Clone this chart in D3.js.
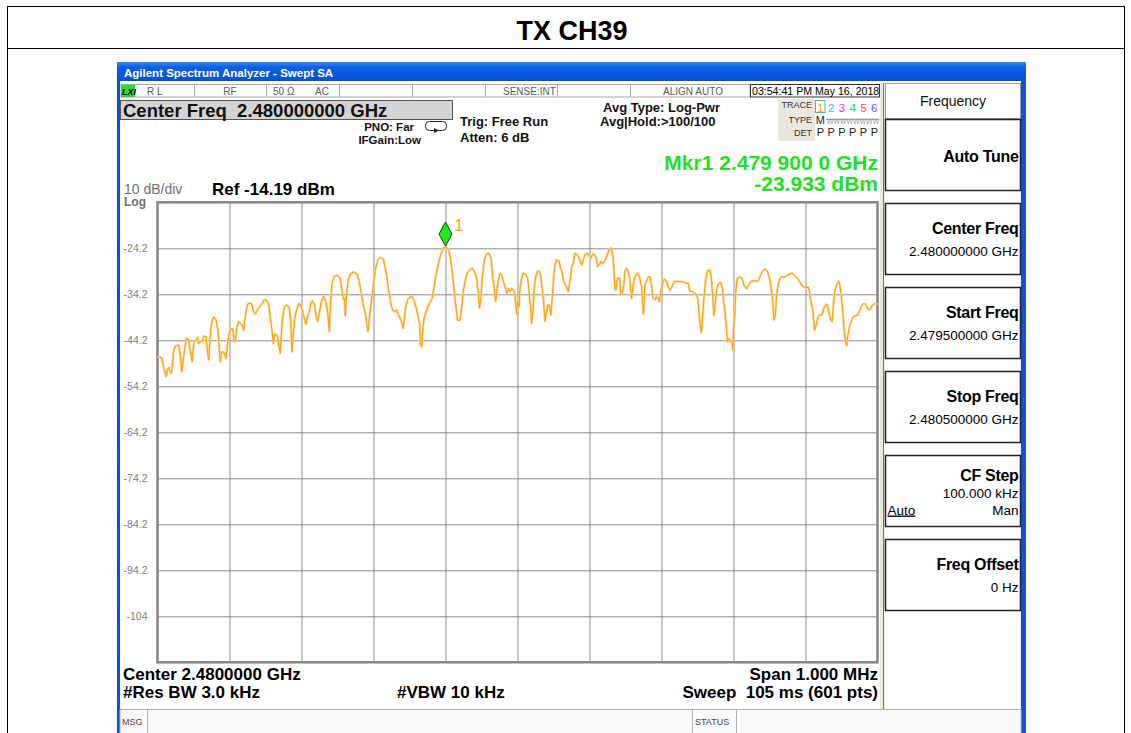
<!DOCTYPE html>
<html>
<head>
<meta charset="utf-8">
<script src="https://cdn.jsdelivr.net/npm/d3@7"></script>
<style>
body { margin: 0; background: #fff; }
svg { display: block; font-family: 'Liberation Sans', Arial, sans-serif; }
text { white-space: pre; }
</style>
</head>
<body>
<svg width="1131" height="733"></svg>
<script>
// trace: kHz above start freq (2.4795 GHz), level in dBm
var traceKHz = [
  0, 5.5, 8.8, 12.0, 13.9, 15.7, 17.6, 19.4, 22.7, 25.0, 28.7, 30.5, 32.4, 33.7, 36.1, 37.9,
  40.2, 43.5, 45.3, 48.1, 50.4, 52.7, 55.5, 57.3, 59.6, 61.9, 64.3, 67.5, 69.4, 71.2, 72.6, 74.9,
  78.1, 81.4, 84.1, 86.0, 87.4, 88.8, 92.0, 95.2, 96.6, 98.9, 101.7, 104.5, 106.3, 108.2, 110.0, 112.8,
  115.1, 117.4, 119.7, 121.1, 123.0, 125.7, 130.4, 133.6, 135.9, 138.7, 141.5, 145.2, 148.9, 152.1,
  154.4, 156.7, 159.0, 160.9, 162.7, 166.0, 168.3, 170.6, 172.0, 173.8, 176.6, 179.8, 183.1, 184.9,
  186.8, 188.6, 190.5, 193.2, 196.0, 199.3, 201.6, 203.9, 206.2, 209.0, 210.8, 213.1, 215.4, 218.2,
  220.1, 222.4, 224.7, 227.5, 230.7, 234.0, 236.7, 238.6, 240.4, 242.3, 246.0, 250.6,
  253.8, 256.1, 258.0, 259.8, 260.8, 262.2, 264.5, 267.7, 272.3, 277.0, 280.2, 283.0, 286.2, 288.5,
  290.8, 292.2, 294.1, 296.8, 300.1, 302.4, 306.1, 309.3, 313.9, 316.2, 318.6, 320.9, 323.2, 326.4,
  329.2, 332.4, 334.7, 337.0, 339.4, 341.2, 343.1, 344.9, 347.7, 350.9, 354.2, 356.9, 358.8, 361.5,
  363.9, 365.2, 367.1, 368.5, 370.8, 374.0, 377.3, 381.0, 383.3, 386.5, 390.2, 393.9, 397.1, 400.0,
  404.1, 406.4, 408.7, 411.0, 413.3, 415.6, 417.0, 420.3, 422.6, 424.9, 428.1, 430.9, 434.1, 437.4,
  440.1, 443.4, 445.7, 447.1, 449.4, 451.2, 454.0, 457.3, 460.5, 463.3, 465.1, 467.4, 469.7, 471.6,
  473.4, 475.7, 478.1, 480.4, 482.7, 485.0, 487.3, 489.6, 491.9, 494.2, 496.5,
  497.9, 498.8, 500.3, 502.0, 503.4, 505.7, 508.1, 511.3, 514.1, 515.9, 517.8, 519.6, 521.5, 523.3,
  525.2, 527.9, 530.7, 532.6, 534.4, 536.3, 538.1, 540.4, 541.8, 544.1, 546.4, 548.3, 550.1, 552.0,
  554.3, 557.5, 559.4, 562.1, 564.0, 566.8, 568.6, 570.5, 572.8, 575.1, 577.9, 579.7, 583.4, 586.6,
  589.0, 591.3, 593.6, 597.3, 599.6, 601.9, 604.2, 607.5, 609.8, 611.2, 613.5, 615.8, 618.5, 620.4,
  622.7, 624.6, 626.9, 629.6, 631.5, 633.3, 635.2, 636.6, 638.9, 642.1, 643.5, 645.4, 647.7, 649.1,
  651.4, 653.7, 656.0, 658.3, 660.6, 662.9, 666.6, 669.4, 672.2, 674.9, 676.8, 679.1, 681.4, 684.2,
  686.0, 688.4, 690.7, 693.0, 695.3, 697.1, 699.0, 700.8, 703.6, 706.9, 709.2, 711.9, 714.7, 717.5,
  723.0, 727.7, 733.2, 736.9, 739.2, 742.9, 746.1, 748.5, 750.8,
  752.1, 753.6, 755.4, 757.3, 759.1, 761.5, 763.8, 767.0, 769.3, 771.6, 773.0, 774.9, 776.7, 779.5,
  782.3, 784.6, 786.4, 788.7, 790.6, 791.5, 793.8, 795.7, 798.0, 798.9, 800.3, 801.7, 803.5, 805.4,
  808.6, 811.8, 814.6, 818.3, 821.1, 823.9, 827.1, 834.0, 836.8, 839.6, 843.3, 847.0, 849.8, 852.5,
  854.4, 856.2, 858.1, 859.5, 861.8, 864.6, 867.3, 872.0, 875.6, 881.2, 884.9, 888.6, 891.8, 895.1,
  898.8, 904.3, 907.1, 910.3, 912.6, 914.9, 917.3, 920.0, 922.8, 925.6, 928.4, 930.2, 933.0, 934.8,
  937.1, 938.5, 940.4, 943.1, 945.9, 947.8, 949.6, 951.9, 954.2, 957.0, 958.9, 961.2, 963.5, 966.3,
  970.0, 972.7, 975.5, 978.3, 981.0, 983.8, 986.6, 989.4, 993.1, 995.8, 1000
]
var traceDbm = [
  -47.8, -47.9, -50.3, -52.1, -50.6, -50.1, -51.0, -51.4, -46.3, -45.4, -45.2, -46.3, -48.5, -51.0, -48.1, -45.9,
  -43.8, -44.1, -46.3, -48.8, -44.9, -44.3, -43.6, -44.9, -44.5, -44.5, -43.3, -43.4, -46.7, -48.5, -44.5, -40.5,
  -39.1, -39.8, -42.3, -46.7, -48.8, -46.7, -46.8, -48.1, -45.9, -43.0, -41.6, -41.8, -44.5, -44.1, -41.6, -40.1,
  -40.5, -40.9, -42.0, -40.1, -38.0, -36.2, -36.2, -38.0, -38.5, -37.6, -36.9, -36.2, -35.3, -35.6,
  -36.5, -39.4, -42.0, -44.9, -42.9, -43.0, -45.2, -47.0, -43.0, -39.4, -36.9, -36.5, -37.2, -40.1,
  -46.7, -43.0, -39.4, -37.6, -36.2, -36.5, -38.0, -39.4, -40.7, -38.7, -38.0, -36.2, -35.6, -36.5,
  -38.7, -40.1, -38.3, -35.8, -34.7, -35.8, -38.7, -42.3, -35.8, -31.8, -30.2, -30.1,
  -30.7, -33.3, -35.3, -35.1, -38.9, -35.1, -31.4, -29.8, -29.3, -29.8, -31.4, -34.0, -36.9, -38.3,
  -40.5, -42.3, -39.8, -36.1, -31.8, -28.9, -26.7, -26.2, -26.6, -28.5, -30.3, -33.3, -35.4, -37.6,
  -38.0, -37.6, -38.7, -39.4, -40.5, -41.6, -39.0, -36.9, -35.3, -34.7, -34.8, -35.8, -36.9, -38.7,
  -40.5, -45.2, -45.6, -41.6, -39.0, -37.6, -36.1, -35.3, -33.3, -30.3, -27.5, -25.3, -24.2, -23.93,
  -24.4, -26.0, -28.5, -31.8, -35.4, -38.3, -39.9, -39.8, -36.9, -33.3, -30.7, -29.3, -28.8, -28.5,
  -29.3, -30.7, -34.0, -37.2, -34.7, -30.3, -26.7, -25.4, -25.3, -26.4, -29.6, -32.5, -35.8, -32.9,
  -31.1, -29.6, -30.0, -31.4, -32.5, -34.0, -32.9, -33.6, -32.9, -33.3, -34.3,
  -36.5, -38.5, -35.8, -36.9, -32.9, -30.7, -29.6, -29.9, -30.7, -33.6, -36.5, -40.5, -37.6, -32.9,
  -30.4, -29.1, -29.3, -30.7, -32.9, -35.8, -40.0, -38.0, -36.5, -36.5, -38.7, -34.7, -30.7, -27.8,
  -26.7, -26.9, -28.2, -29.6, -31.4, -32.2, -32.9, -33.6, -31.4, -28.5, -27.1, -25.3, -25.6, -26.7,
  -27.8, -26.7, -25.6, -25.3, -26.0, -26.4, -25.5, -25.6, -26.7, -28.2, -27.8, -27.1, -27.5, -27.1,
  -26.4, -25.6, -24.6, -24.1, -24.9, -27.1, -32.9, -33.3, -30.7, -30.7, -34.3, -34.0, -32.2, -29.3,
  -28.5, -29.3, -30.7, -35.1, -32.2, -30.4, -29.6, -30.4, -32.5, -38.5, -32.2, -31.4, -30.4, -30.4,
  -32.2, -35.1, -35.4, -34.7, -35.1, -35.8, -33.6, -32.2, -30.9, -31.3, -32.5, -33.3, -32.5, -31.4,
  -31.4, -31.4, -31.7, -31.8, -33.5, -33.6, -34.0, -34.3, -35.4,
  -38.5, -40.5, -42.5, -38.7, -34.7, -30.7, -29.1, -28.9, -30.7, -35.8, -38.8, -35.8, -32.9, -31.8,
  -31.6, -32.9, -35.8, -38.7, -42.0, -44.5, -43.8, -44.5, -44.6, -46.3, -41.2, -38.7, -32.9, -30.7,
  -30.4, -30.7, -32.2, -33.0, -32.2, -31.4, -31.3, -31.3, -30.4, -29.3, -28.7, -29.1, -30.7, -32.9,
  -35.8, -39.8, -38.7, -35.1, -32.2, -30.7, -30.4, -30.4, -30.0, -29.6, -30.1, -30.7, -31.4, -32.3,
  -32.7, -32.7, -35.1, -38.0, -42.0, -40.9, -39.1, -38.7, -38.7, -37.2, -36.4, -36.4, -38.3, -39.8,
  -40.1, -37.2, -33.6, -32.2, -31.3, -32.2, -34.2, -38.3, -43.0, -45.4, -43.0, -41.2, -40.1, -39.1,
  -38.8, -38.7, -37.6, -36.5, -36.2, -36.4, -37.4, -37.6, -36.5, -36.2, -36.4
]

var refLevel = -14.19
var gridKHz = [100, 200, 300, 400, 500, 600, 700, 800, 900]
var gridDbm = [-24.19, -34.19, -44.19, -54.19, -64.19, -74.19, -84.19, -94.19, -104.19]
var gridLabels = ['-24.2', '-34.2', '-44.2', '-54.2', '-64.2', '-74.2', '-84.2', '-94.2', '-104']

var markerKHz = 400
var markerDbm = -23.93

var statusCells = [
  {x0: 121, x1: 194, text: 'R L', tx: 147, anchor: 'start'},
  {x0: 194, x1: 266, text: 'RF', tx: 230, anchor: 'middle'},
  {x0: 266, x1: 339, text: '50 \u03a9', tx: 273, anchor: 'start'},
  {x0: 266, x1: 339, text: 'AC', tx: 315, anchor: 'start'},
  {x0: 339, x1: 412, text: '', tx: 0, anchor: 'start'},
  {x0: 412, x1: 485, text: '', tx: 0, anchor: 'start'},
  {x0: 485, x1: 557, text: 'SENSE:INT', tx: 503, anchor: 'start'},
  {x0: 557, x1: 630, text: '', tx: 0, anchor: 'start'},
  {x0: 630, x1: 750, text: 'ALIGN AUTO', tx: 693, anchor: 'middle'}
]
var softkeyTitles = ['Auto Tune', 'Center Freq', 'Start Freq', 'Stop Freq', 'CF Step', 'Freq Offset']
var softkeyValues = ['', '2.480000000 GHz', '2.479500000 GHz', '2.480500000 GHz', '100.000 kHz', '0 Hz']
var traceNums = ['1', '2', '3', '4', '5', '6']
var traceColors = ['#ff9f00', '#22c8f0', '#f02cf0', '#30d060', '#ff3a78', '#6a50ff']

var svg = d3.select('svg')

function label(x, y, str, size, weight, fill, anchor) {
  return svg.append('text')
    .attr('x', x).attr('y', y)
    .attr('font-size', size)
    .attr('font-weight', weight || 'normal')
    .attr('fill', fill || '#000')
    .attr('text-anchor', anchor || 'start')
    .text(str)
}

// page frame + title
svg.append('rect').attr('x', 7.5).attr('y', 6.5).attr('width', 1117).attr('height', 740)
  .attr('fill', 'none').attr('stroke', '#000')
svg.append('line').attr('x1', 7).attr('x2', 1125).attr('y1', 48.5).attr('y2', 48.5).attr('stroke', '#000')
label(572, 40, 'TX CH39', 27, 'bold', '#000', 'middle')

// XP window chrome
var defs = svg.append('defs')
var grad = defs.append('linearGradient').attr('id', 'xp').attr('x1', 0).attr('x2', 0).attr('y1', 0).attr('y2', 1)
grad.append('stop').attr('offset', '0%').attr('stop-color', '#3d8ff5')
grad.append('stop').attr('offset', '25%').attr('stop-color', '#0a62e4')
grad.append('stop').attr('offset', '100%').attr('stop-color', '#0650d0')
svg.append('rect').attr('x', 117).attr('y', 62).attr('width', 909).attr('height', 680).attr('fill', '#0a55d6')
svg.append('rect').attr('x', 117).attr('y', 62).attr('width', 909).attr('height', 19).attr('fill', 'url(#xp)')
svg.append('rect').attr('x', 120).attr('y', 81).attr('width', 901).attr('height', 660).attr('fill', '#fff')
label(124, 77, 'Agilent Spectrum Analyzer - Swept SA', 11.5, 'bold', '#fff')

// status row
svg.append('rect').attr('x', 121).attr('y', 84.5).attr('width', 629).attr('height', 12.5)
  .attr('fill', '#fff').attr('stroke', '#a8a8a8')
svg.selectAll('.cellsep').data(statusCells).enter().append('line')
  .attr('x1', function (d) { return d.x1 + 0.5 }).attr('x2', function (d) { return d.x1 + 0.5 })
  .attr('y1', 84.5).attr('y2', 97).attr('stroke', '#a8a8a8')
svg.selectAll('.celltext').data(statusCells).enter().append('text')
  .attr('x', function (d) { return d.tx }).attr('y', 95)
  .attr('text-anchor', function (d) { return d.anchor })
  .attr('font-size', 10).attr('fill', '#5a5a5a')
  .text(function (d) { return d.text })
svg.append('rect').attr('x', 121).attr('y', 85).attr('width', 14).attr('height', 12).attr('fill', '#2ed82e')
label(122, 95, 'LXI', 9, 'bold', '#000').attr('font-style', 'italic')
svg.append('rect').attr('x', 750.5).attr('y', 84.5).attr('width', 129).attr('height', 12.5)
  .attr('fill', '#fff').attr('stroke', '#333')
label(752, 95, '03:54:41 PM May 16, 2018', 10.6, 'normal', '#000')

// center freq entry box
svg.append('rect').attr('x', 120.5).attr('y', 100.5).attr('width', 332).attr('height', 19)
  .attr('fill', '#d4d4d4').attr('stroke', '#555')
label(123, 116.5, 'Center Freq  2.480000000 GHz', 18.5, 'bold', '#111')

// settings text
label(414, 131, 'PNO: Far', 11.5, 'bold', '#111', 'end')
label(421, 144, 'IFGain:Low', 11.5, 'bold', '#111', 'end')
svg.append('rect').attr('x', 425.5).attr('y', 121.5).attr('width', 21).attr('height', 9).attr('rx', 4)
  .attr('fill', '#fff').attr('stroke', '#222')
svg.append('path').attr('d', 'M434,128 L439,130.5 L434,133 Z').attr('fill', '#222')
label(460, 126, 'Trig: Free Run', 13, 'bold', '#111')
label(460, 141.5, 'Atten: 6 dB', 13, 'bold', '#111')
label(603, 111.5, 'Avg Type: Log-Pwr', 13, 'bold', '#111')
label(600, 125.5, 'Avg|Hold:>100/100', 13, 'bold', '#111')

// trace legend block
svg.append('rect').attr('x', 778).attr('y', 99).attr('width', 37).attr('height', 42).attr('fill', '#ebe7dc')
label(812, 108, 'TRACE', 9, 'normal', '#333', 'end')
label(812, 122.5, 'TYPE', 9, 'normal', '#333', 'end')
label(812, 136, 'DET', 9, 'normal', '#333', 'end')
svg.append('rect').attr('x', 815.5).attr('y', 100.5).attr('width', 9.5).attr('height', 12)
  .attr('fill', 'none').attr('stroke', '#30d060')
svg.selectAll('.tnum').data(traceNums).enter().append('text')
  .attr('x', function (d, i) { return 820.3 + i * 10.8 }).attr('y', 111.5)
  .attr('text-anchor', 'middle').attr('font-size', 11.5)
  .attr('fill', function (d, i) { return traceColors[i] })
  .text(function (d) { return d })
label(820.3, 123.5, 'M', 11, 'normal', '#222', 'middle')
label(827, 123.5, 'WWWWWWWW', 9.5, 'normal', '#9a9a9a')
  .attr('textLength', 52).attr('lengthAdjust', 'spacingAndGlyphs')
svg.append('line').attr('x1', 826).attr('x2', 879).attr('y1', 119.5).attr('y2', 119.5).attr('stroke', '#9a9a9a')
svg.selectAll('.tdet').data(traceNums).enter().append('text')
  .attr('x', function (d, i) { return 820.3 + i * 10.8 }).attr('y', 136)
  .attr('text-anchor', 'middle').attr('font-size', 11).attr('fill', '#222')
  .text('P')

// marker readout
label(878, 170, 'Mkr1 2.479 900 0 GHz', 21, 'bold', '#22e022', 'end')
label(878, 191, '-23.933 dBm', 21, 'bold', '#22e022', 'end')

label(124, 193.5, '10 dB/div', 14, 'normal', '#707070')
label(124, 206, 'Log', 12, 'bold', '#707070')
label(212, 195, 'Ref -14.19 dBm', 17, 'bold', '#000')

// plot
var x = d3.scaleLinear().domain([0, 1000]).range([157.5, 877.5])
var y = d3.scaleLinear().domain([refLevel - 100, refLevel]).range([662.3, 202.3])

var yAxis = svg.append('g')
  .attr('class', 'axis axis-y')
  .attr('transform', 'translate(157.5,0)')
  .call(d3.axisLeft(y).tickValues(gridDbm)
    .tickFormat(function (d, i) { return gridLabels[i] })
    .tickSize(-720).tickPadding(10))
yAxis.select('.domain').remove()
yAxis.selectAll('line').attr('stroke', '#8c8c8c')
yAxis.selectAll('text').attr('fill', '#808080').attr('font-size', 10.5)
  .attr('font-family', "'Liberation Sans', Arial, sans-serif")

var xAxis = svg.append('g')
  .attr('class', 'axis axis-x')
  .attr('transform', 'translate(0,662.3)')
  .call(d3.axisBottom(x).tickValues(gridKHz).tickFormat('').tickSize(-460))
xAxis.select('.domain').remove()
xAxis.selectAll('line').attr('stroke', '#8c8c8c')

svg.append('rect').attr('x', x(0)).attr('y', y(refLevel))
  .attr('width', x(1000) - x(0)).attr('height', y(refLevel - 100) - y(refLevel))
  .attr('fill', 'none').attr('stroke', '#858585').attr('stroke-width', 2.5)

var points = traceKHz.map(function (f, i) { return [f, traceDbm[i]] })
var line = d3.line()
  .x(function (d) { return x(d[0]) })
  .y(function (d) { return y(d[1]) })

svg.append('path').datum(points).attr('d', line)
  .attr('fill', 'none').attr('stroke', '#ffd699').attr('stroke-width', 2.4).attr('stroke-linejoin', 'round')
svg.append('path').datum(points).attr('d', line)
  .attr('fill', 'none').attr('stroke', '#ff9f00').attr('stroke-width', 1).attr('stroke-linejoin', 'round')

var mk = svg.append('g')
  .attr('transform', 'translate(' + x(markerKHz) + ',' + (y(markerDbm) - 1) + ')')
mk.append('path').attr('d', 'M0,0 L6.5,-12 L0,-24 L-6.5,-12 Z')
  .attr('fill', '#1ee81e').attr('stroke', '#0b4a0b').attr('stroke-width', 1)
mk.append('text').attr('x', 9).attr('y', -15).attr('font-size', 16)
  .attr('fill', '#ff9f00').text('1')

// bottom annotation
label(123, 680, 'Center 2.4800000 GHz', 17, 'bold', '#000')
label(123, 698, '#Res BW 3.0 kHz', 17, 'bold', '#000')
label(397, 698, '#VBW 10 kHz', 17, 'bold', '#000')
label(878, 680, 'Span 1.000 MHz', 17, 'bold', '#000', 'end')
label(878, 698, 'Sweep  105 ms (601 pts)', 17, 'bold', '#000', 'end')

// message bar
svg.append('rect').attr('x', 120).attr('y', 709.5).attr('width', 901).attr('height', 30)
  .attr('fill', '#fafafa').attr('stroke', '#b0b0b0')
svg.append('line').attr('x1', 147.5).attr('x2', 147.5).attr('y1', 710).attr('y2', 733).attr('stroke', '#b0b0b0')
svg.append('line').attr('x1', 692.5).attr('x2', 692.5).attr('y1', 710).attr('y2', 733).attr('stroke', '#b0b0b0')
svg.append('line').attr('x1', 736.5).attr('x2', 736.5).attr('y1', 710).attr('y2', 733).attr('stroke', '#b0b0b0')
label(122, 725, 'MSG', 9, 'normal', '#444')
label(695, 725, 'STATUS', 9, 'normal', '#444')

// softkey panel
svg.append('rect').attr('x', 880).attr('y', 82).attr('width', 5).attr('height', 627).attr('fill', '#ece9d8')
svg.append('line').attr('x1', 883.5).attr('x2', 883.5).attr('y1', 83).attr('y2', 709).attr('stroke', '#777')
svg.append('rect').attr('x', 885.5).attr('y', 83.5).attr('width', 135).attr('height', 35)
  .attr('fill', '#fff').attr('stroke', '#9a9a9a')
label(953, 106, 'Frequency', 14, 'normal', '#111', 'middle')

var keys = svg.selectAll('.softkey').data(softkeyTitles).enter().append('g')
  .attr('class', 'softkey')
  .attr('transform', function (d, i) { return 'translate(885.5,' + (119.5 + i * 84) + ')' })
keys.append('rect').attr('width', 135).attr('height', 71)
  .attr('fill', '#fff').attr('stroke', '#222').attr('stroke-width', 1.5)
keys.append('text')
  .attr('x', 133).attr('y', function (d, i) { return i === 0 ? 42 : i === 4 ? 25 : 30 })
  .attr('text-anchor', 'end').attr('font-size', 16).attr('font-weight', 'bold')
  .attr('letter-spacing', -0.3)
  .text(function (d) { return d })
keys.append('text')
  .attr('x', 133).attr('y', function (d, i) { return i === 4 ? 42 : 52 })
  .attr('text-anchor', 'end').attr('font-size', 13.5)
  .text(function (d, i) { return softkeyValues[i] })
var cf = d3.select(keys.nodes()[4])
cf.append('text').attr('x', 2).attr('y', 59).attr('font-size', 13.5)
  .attr('text-decoration', 'underline').text('Auto')
cf.append('text').attr('x', 133).attr('y', 59).attr('font-size', 13.5)
  .attr('text-anchor', 'end').text('Man')
</script>
</body>
</html>
